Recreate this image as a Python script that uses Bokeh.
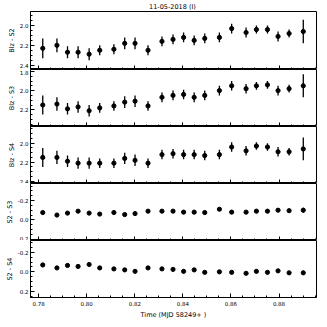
from bokeh.plotting import figure
from bokeh.layouts import column
from bokeh.models import Range1d, SingleIntervalTicker, CustomJSTickFormatter, PrintfTickFormatter, ColumnDataSource
from bokeh.embed import file_html
from bokeh.resources import INLINE

title_text = "11-05-2018  (I)"
x_label = "Time (MJD 58249+ )"

time = [0.7817, 0.7876, 0.7920, 0.7964, 0.8010, 0.8054, 0.8113, 0.8158, 0.8201,
        0.8255, 0.8313, 0.8359, 0.8403, 0.8447, 0.8491, 0.8552, 0.8603, 0.8663,
        0.8706, 0.8752, 0.8796, 0.8842, 0.8901]

blz_s2 = [2.23, 2.20, 2.27, 2.27, 2.29, 2.25, 2.24, 2.18, 2.18, 2.25, 2.16, 2.14,
          2.12, 2.15, 2.13, 2.12, 2.03, 2.07, 2.04, 2.04, 2.11, 2.08, 2.06]
blz_s2_err = [0.10, 0.07, 0.06, 0.06, 0.06, 0.05, 0.05, 0.06, 0.06, 0.05, 0.05, 0.05,
              0.05, 0.05, 0.05, 0.05, 0.05, 0.05, 0.04, 0.04, 0.05, 0.04, 0.12]

blz_s3 = [2.15, 2.14, 2.19, 2.17, 2.21, 2.18, 2.16, 2.12, 2.11, 2.16, 2.07, 2.05,
          2.04, 2.07, 2.05, 2.00, 1.95, 1.98, 1.95, 1.94, 2.00, 1.98, 1.95]
blz_s3_err = [0.10, 0.07, 0.06, 0.06, 0.06, 0.05, 0.05, 0.06, 0.06, 0.05, 0.05, 0.05,
              0.05, 0.05, 0.05, 0.05, 0.05, 0.05, 0.04, 0.04, 0.05, 0.04, 0.12]

blz_s4 = [2.15, 2.15, 2.19, 2.21, 2.21, 2.21, 2.21, 2.16, 2.18, 2.21, 2.12, 2.11,
          2.12, 2.12, 2.13, 2.12, 2.04, 2.08, 2.03, 2.04, 2.09, 2.09, 2.06]
blz_s4_err = [0.10, 0.07, 0.06, 0.06, 0.06, 0.05, 0.05, 0.06, 0.06, 0.05, 0.05, 0.05,
              0.05, 0.05, 0.05, 0.05, 0.05, 0.05, 0.04, 0.04, 0.05, 0.04, 0.12]

s2_s3 = [-0.076, -0.050, -0.070, -0.090, -0.070, -0.060, -0.076, -0.055, -0.065,
         -0.090, -0.090, -0.090, -0.080, -0.080, -0.076, -0.110, -0.080, -0.080,
         -0.090, -0.090, -0.100, -0.095, -0.100]
s2_s3_err = [0.012] * 22 + [0.025]

s2_s4 = [-0.070, -0.040, -0.065, -0.055, -0.075, -0.040, -0.030, -0.020, -0.005,
         -0.040, -0.030, -0.025, -0.005, -0.020, 0.005, 0.000, 0.005, 0.015,
         -0.005, 0.005, -0.010, 0.010, 0.010]
s2_s4_err = [0.012] * 22 + [0.022]

panels = [
    ("Blz - S2", blz_s2, blz_s2_err, (2.445, 1.857)),
    ("Blz - S3", blz_s3, blz_s3_err, (2.374, 1.780)),
    ("Blz - S4", blz_s4, blz_s4_err, (2.424, 1.824)),
    ("S2 - S3", s2_s3, s2_s3_err, (0.213, -0.376)),
    ("S2 - S4", s2_s4, s2_s4_err, (0.261, -0.319)),
]

FONT = "DejaVu Sans"
xr = Range1d(0.7766, 0.8956)
yfmt_code = """
var s = Math.abs(tick) < 1e-9 ? '0.0' : tick.toFixed(1);
return s;
"""

plots = []
n = len(panels)
for i, (lab, vals, errs, yr) in enumerate(panels):
    first = i == 0
    last = i == n - 1
    p = figure(frame_width=286, frame_height=58 if first else 57,
               x_range=xr, y_range=Range1d(yr[0], yr[1]),
               output_backend="svg", toolbar_location=None,
               min_border_left=30, min_border_right=1,
               min_border_top=0, min_border_bottom=0,
               background_fill_color="white", border_fill_color="white")
    p.outline_line_color = "black"
    p.outline_line_width = 1
    p.outline_line_alpha = 1
    p.grid.visible = False

    if first:
        p.title.text = title_text
        p.title.align = "center"
        p.title.text_font = FONT
        p.title.text_font_size = "6.5px"
        p.title.text_font_style = "normal"
        p.title.text_color = "black"
        p.title.standoff = 1
        p.title.offset = 0

    src = ColumnDataSource(dict(t=time, y=vals,
                                lo=[v - e for v, e in zip(vals, errs)],
                                hi=[v + e for v, e in zip(vals, errs)]))
    p.segment(x0="t", y0="lo", x1="t", y1="hi", source=src, line_color="black", line_width=1.3)
    p.scatter(x="t", y="y", source=src, size=4.2, marker="circle",
              fill_color="black", line_color="black")

    ya = p.yaxis[0]
    ya.ticker = SingleIntervalTicker(interval=0.2, num_minor_ticks=4)
    ya.formatter = CustomJSTickFormatter(code=yfmt_code)
    ya.axis_label = lab
    ya.axis_label_text_font = FONT
    ya.axis_label_text_font_size = "6.5px"
    ya.axis_label_text_font_style = "normal"
    ya.axis_label_text_color = "black"
    ya.axis_label_standoff = 1
    ya.major_label_text_font = FONT
    ya.major_label_text_font_size = "5.5px"
    ya.major_label_text_color = "black"
    ya.major_label_standoff = 2
    ya.major_tick_in = 4
    ya.major_tick_out = 0
    ya.minor_tick_in = 2
    ya.minor_tick_out = 0
    ya.axis_line_color = "black"
    ya.major_tick_line_color = "black"
    ya.minor_tick_line_color = "black"

    xa = p.xaxis[0]
    xa.ticker = SingleIntervalTicker(interval=0.02, num_minor_ticks=4)
    xa.major_tick_in = 4
    xa.major_tick_out = 0
    xa.minor_tick_in = 2
    xa.minor_tick_out = 0
    xa.axis_line_color = "black"
    xa.major_tick_line_color = "black"
    xa.minor_tick_line_color = "black"
    if last:
        xa.formatter = PrintfTickFormatter(format="%.2f")
        xa.axis_label = x_label
        xa.axis_label_text_font = FONT
        xa.axis_label_text_font_size = "6.5px"
        xa.axis_label_text_font_style = "normal"
        xa.axis_label_text_color = "black"
        xa.axis_label_standoff = 2
        xa.major_label_text_font = FONT
        xa.major_label_text_font_size = "5.5px"
        xa.major_label_text_color = "black"
        xa.major_label_standoff = 3
    else:
        xa.formatter = CustomJSTickFormatter(code="return '';")
        xa.major_label_standoff = 0
        xa.axis_label = None
    plots.append(p)

layout = column(*plots, spacing=0)
open("out.html", "w").write(file_html(layout, INLINE))
